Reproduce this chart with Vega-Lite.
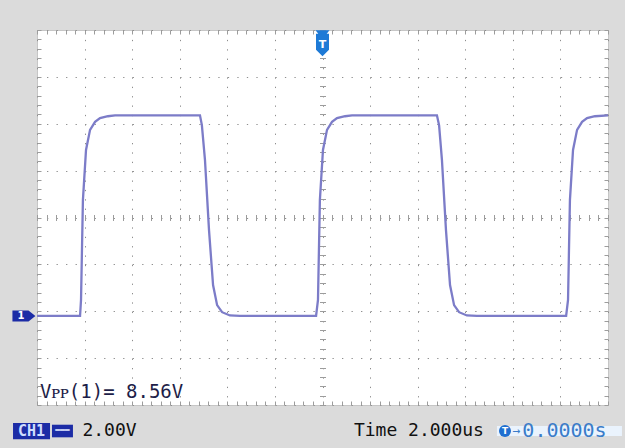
{
  "$schema": "https://vega.github.io/schema/vega-lite/v6.json",
  "width": 571,
  "height": 375,
  "autosize": {"type": "none"},
  "padding": {"left": 37, "top": 30, "right": 17, "bottom": 43},
  "background": "#dbdbdb",
  "config": {
    "view": {"fill": "#ffffff", "stroke": "#c6c6c6", "strokeWidth": 1},
    "axis": {"title": null, "labels": false, "domain": false, "zindex": 0, "tickColor": "#9c9c9c", "tickWidth": 1}
  },
  "resolve": {"axis": {"x": "independent", "y": "independent"}},
  "datasets": {
    "trace": [
      {"t": -12, "v": -4.2}, {"t": -10.19, "v": -4.2}, {"t": -10.15, "v": -3.52}, {"t": -10.07, "v": 0.74},
      {"t": -9.94, "v": 2.88}, {"t": -9.77, "v": 3.74}, {"t": -9.56, "v": 4.08}, {"t": -9.35, "v": 4.24},
      {"t": -9.02, "v": 4.32}, {"t": -8.72, "v": 4.36}, {"t": -5.15, "v": 4.36}, {"t": -5.07, "v": 3.94},
      {"t": -4.94, "v": 2.46}, {"t": -4.77, "v": -0.54}, {"t": -4.6, "v": -2.88}, {"t": -4.43, "v": -3.74},
      {"t": -4.22, "v": -4.04}, {"t": -3.89, "v": -4.18}, {"t": -3.47, "v": -4.2}, {"t": -0.27, "v": -4.2},
      {"t": -0.19, "v": -3.52}, {"t": -0.11, "v": 0.74}, {"t": 0.02, "v": 2.88}, {"t": 0.19, "v": 3.74},
      {"t": 0.4, "v": 4.08}, {"t": 0.61, "v": 4.24}, {"t": 0.95, "v": 4.32}, {"t": 1.24, "v": 4.36},
      {"t": 4.81, "v": 4.36}, {"t": 4.9, "v": 3.94}, {"t": 5.02, "v": 2.46}, {"t": 5.19, "v": -0.54},
      {"t": 5.36, "v": -2.88}, {"t": 5.53, "v": -3.74}, {"t": 5.74, "v": -4.04}, {"t": 6.07, "v": -4.18},
      {"t": 6.49, "v": -4.2}, {"t": 10.24, "v": -4.2}, {"t": 10.32, "v": -3.52}, {"t": 10.4, "v": 0.74},
      {"t": 10.53, "v": 2.88}, {"t": 10.7, "v": 3.74}, {"t": 10.91, "v": 4.08}, {"t": 11.12, "v": 4.24},
      {"t": 11.45, "v": 4.32}, {"t": 12, "v": 4.36}
    ]
  },
  "layer": [
    {
      "data": {"name": "trace"},
      "mark": {"type": "line", "color": "#7c7cc8", "strokeWidth": 2.3, "interpolate": "linear"},
      "encoding": {
        "x": {"field": "t", "type": "quantitative", "scale": {"domain": [-12, 12], "nice": false, "zero": false},
          "axis": {"orient": "bottom", "values": [-12, -10, -8, -6, -4, -2, 0, 2, 4, 6, 8, 10, 12], "grid": true, "ticks": false, "gridColor": "#8e8e8e", "gridDash": [1.3, 8.075], "gridWidth": 1}},
        "y": {"field": "v", "type": "quantitative", "scale": {"domain": [-8, 8], "nice": false, "zero": false},
          "axis": {"orient": "left", "values": [-8, -6, -4, -2, 0, 2, 4, 6, 8], "grid": true, "ticks": false, "gridColor": "#8e8e8e", "gridDash": [1.3, 8.216], "gridWidth": 1}}
      }
    },
    {
      "data": {"values": [{"t": -12.55, "v": -4.2, "label": "1"}]},
      "mark": {"type": "point", "shape": "M-1,-0.48L0.4,-0.48L1,0L0.4,0.48L-1,0.48Z", "size": 529, "filled": true, "color": "#1c2ca6", "opacity": 1},
      "encoding": {
        "x": {"field": "t", "type": "quantitative",
          "axis": {"orient": "bottom", "offset": -190.5, "tickSize": 6, "values": [-12, -11.6, -11.2, -10.8, -10.4, -10, -9.6, -9.2, -8.8, -8.4, -8, -7.6, -7.2, -6.8, -6.4, -6, -5.6, -5.2, -4.8, -4.4, -4, -3.6, -3.2, -2.8, -2.4, -2, -1.6, -1.2, -0.8, -0.4, 0, 0.4, 0.8, 1.2, 1.6, 2, 2.4, 2.8, 3.2, 3.6, 4, 4.4, 4.8, 5.2, 5.6, 6, 6.4, 6.8, 7.2, 7.6, 8, 8.4, 8.8, 9.2, 9.6, 10, 10.4, 10.8, 11.2, 11.6, 12]}},
        "y": {"field": "v", "type": "quantitative",
          "axis": {"orient": "left", "offset": -288.5, "tickSize": 6, "values": [-8, -7.6, -7.2, -6.8, -6.4, -6, -5.6, -5.2, -4.8, -4.4, -4, -3.6, -3.2, -2.8, -2.4, -2, -1.6, -1.2, -0.8, -0.4, 0, 0.4, 0.8, 1.2, 1.6, 2, 2.4, 2.8, 3.2, 3.6, 4, 4.4, 4.8, 5.2, 5.6, 6, 6.4, 6.8, 7.2, 7.6, 8]}}
      }
    },
    {
      "data": {"values": [{"t": -12.67, "v": -4.2, "label": "1"}]},
      "mark": {"type": "text", "color": "#ffffff", "font": "DejaVu Sans", "fontWeight": "bold", "fontSize": 10, "align": "center", "baseline": "middle"},
      "encoding": {
        "x": {"field": "t", "type": "quantitative", "axis": null},
        "y": {"field": "v", "type": "quantitative", "axis": null},
        "text": {"field": "label"}
      }
    },
    {
      "data": {"values": [{"t": 0, "v": 7.44}]},
      "mark": {"type": "point", "shape": "M-0.54,-1L0.54,-1L0.32,-0.72L0.5,-0.72L0.5,0.5L0,1L-0.5,0.5L-0.5,-0.72L-0.32,-0.72Z", "size": 676, "filled": true, "color": "#1e7ad6", "opacity": 1},
      "encoding": {
        "x": {"field": "t", "type": "quantitative",
          "axis": {"orient": "top", "offset": -4, "tickSize": 4, "values": [-12, -11.6, -11.2, -10.8, -10.4, -10, -9.6, -9.2, -8.8, -8.4, -8, -7.6, -7.2, -6.8, -6.4, -6, -5.6, -5.2, -4.8, -4.4, -4, -3.6, -3.2, -2.8, -2.4, -2, -1.6, -1.2, -0.8, -0.4, 0, 0.4, 0.8, 1.2, 1.6, 2, 2.4, 2.8, 3.2, 3.6, 4, 4.4, 4.8, 5.2, 5.6, 6, 6.4, 6.8, 7.2, 7.6, 8, 8.4, 8.8, 9.2, 9.6, 10, 10.4, 10.8, 11.2, 11.6, 12]}},
        "y": {"field": "v", "type": "quantitative",
          "axis": {"orient": "left", "offset": -4, "tickSize": 4, "values": [-8, -7.6, -7.2, -6.8, -6.4, -6, -5.6, -5.2, -4.8, -4.4, -4, -3.6, -3.2, -2.8, -2.4, -2, -1.6, -1.2, -0.8, -0.4, 0, 0.4, 0.8, 1.2, 1.6, 2, 2.4, 2.8, 3.2, 3.6, 4, 4.4, 4.8, 5.2, 5.6, 6, 6.4, 6.8, 7.2, 7.6, 8]}}
      }
    },
    {
      "data": {"values": [{"t": 0, "v": 7.36, "label": "T"}]},
      "mark": {"type": "text", "color": "#ffffff", "font": "DejaVu Sans", "fontWeight": "bold", "fontSize": 11, "align": "center", "baseline": "middle"},
      "encoding": {
        "x": {"field": "t", "type": "quantitative", "axis": null},
        "y": {"field": "v", "type": "quantitative", "axis": null},
        "text": {"field": "label"}
      }
    },
    {
      "data": {"values": [{"t": -11.87, "v": -7.45, "label": "Vᴘᴘ(1)= 8.56V"}]},
      "mark": {"type": "text", "color": "#1e1e48", "font": "DejaVu Sans Mono", "fontSize": 19, "align": "left", "baseline": "middle"},
      "encoding": {
        "x": {"field": "t", "type": "quantitative",
          "axis": {"orient": "bottom", "offset": -4, "tickSize": 4, "values": [-12, -11.6, -11.2, -10.8, -10.4, -10, -9.6, -9.2, -8.8, -8.4, -8, -7.6, -7.2, -6.8, -6.4, -6, -5.6, -5.2, -4.8, -4.4, -4, -3.6, -3.2, -2.8, -2.4, -2, -1.6, -1.2, -0.8, -0.4, 0, 0.4, 0.8, 1.2, 1.6, 2, 2.4, 2.8, 3.2, 3.6, 4, 4.4, 4.8, 5.2, 5.6, 6, 6.4, 6.8, 7.2, 7.6, 8, 8.4, 8.8, 9.2, 9.6, 10, 10.4, 10.8, 11.2, 11.6, 12]}},
        "y": {"field": "v", "type": "quantitative",
          "axis": {"orient": "right", "offset": -4, "tickSize": 4, "values": [-8, -7.6, -7.2, -6.8, -6.4, -6, -5.6, -5.2, -4.8, -4.4, -4, -3.6, -3.2, -2.8, -2.4, -2, -1.6, -1.2, -0.8, -0.4, 0, 0.4, 0.8, 1.2, 1.6, 2, 2.4, 2.8, 3.2, 3.6, 4, 4.4, 4.8, 5.2, 5.6, 6, 6.4, 6.8, 7.2, 7.6, 8]}},
        "text": {"field": "label"}
      }
    },
    {
      "data": {"values": [{"t": -12.23, "v": -9.11}]},
      "mark": {"type": "point", "shape": "M-1,-0.44L1,-0.44L1,0.44L-1,0.44Z", "size": 1369, "filled": true, "color": "#1c2ca6", "opacity": 1},
      "encoding": {
        "x": {"field": "t", "type": "quantitative", "axis": null},
        "y": {"field": "v", "type": "quantitative", "axis": null}
      }
    },
    {
      "data": {"values": [{"t": -10.93, "v": -9.11}]},
      "mark": {"type": "point", "shape": "M-1,-0.6L1,-0.6L1,0.6L-1,0.6Z", "size": 441, "filled": true, "color": "#1c2ca6", "opacity": 1},
      "encoding": {
        "x": {"field": "t", "type": "quantitative", "axis": null},
        "y": {"field": "v", "type": "quantitative", "axis": null}
      }
    },
    {
      "data": {"values": [{"t": -12.23, "v": -9.11, "label": "CH1"}]},
      "mark": {"type": "text", "color": "#cfdcff", "font": "DejaVu Sans Mono", "fontWeight": "bold", "fontSize": 15, "align": "center", "baseline": "middle"},
      "encoding": {
        "x": {"field": "t", "type": "quantitative", "axis": null},
        "y": {"field": "v", "type": "quantitative", "axis": null},
        "text": {"field": "label"}
      }
    },
    {
      "data": {"values": [{"t": -10.93, "v": -9.11, "label": "═══"}]},
      "mark": {"type": "text", "color": "#dfe6ff", "font": "DejaVu Sans Mono", "fontSize": 8, "align": "center", "baseline": "middle"},
      "encoding": {
        "x": {"field": "t", "type": "quantitative", "axis": null},
        "y": {"field": "v", "type": "quantitative", "axis": null},
        "text": {"field": "label"}
      }
    },
    {
      "data": {"values": [{"t": -10.09, "v": -9.11, "label": "2.00V"}, {"t": 1.32, "v": -9.11, "label": "Time 2.000us"}]},
      "mark": {"type": "text", "color": "#111111", "font": "DejaVu Sans Mono", "fontSize": 18, "align": "left", "baseline": "middle"},
      "encoding": {
        "x": {"field": "t", "type": "quantitative", "axis": null},
        "y": {"field": "v", "type": "quantitative", "axis": null},
        "text": {"field": "label"}
      }
    },
    {
      "data": {"values": [{"t": 9.96, "v": -9.11}]},
      "mark": {"type": "point", "shape": "M-1,-0.08L1,-0.08L1,0.08L-1,0.08Z", "size": 15625, "filled": true, "color": "#eaf3fd", "opacity": 1},
      "encoding": {
        "x": {"field": "t", "type": "quantitative", "axis": null},
        "y": {"field": "v", "type": "quantitative", "axis": null}
      }
    },
    {
      "data": {"values": [{"t": 7.67, "v": -9.11}]},
      "mark": {"type": "point", "shape": "circle", "size": 144, "filled": true, "color": "#1f6fd0", "opacity": 1},
      "encoding": {
        "x": {"field": "t", "type": "quantitative", "axis": null},
        "y": {"field": "v", "type": "quantitative", "axis": null}
      }
    },
    {
      "data": {"values": [{"t": 7.67, "v": -9.11, "label": "T"}]},
      "mark": {"type": "text", "color": "#ffffff", "font": "DejaVu Sans", "fontWeight": "bold", "fontSize": 9, "align": "center", "baseline": "middle"},
      "encoding": {
        "x": {"field": "t", "type": "quantitative", "axis": null},
        "y": {"field": "v", "type": "quantitative", "axis": null},
        "text": {"field": "label"}
      }
    },
    {
      "data": {"values": [{"t": 8.0, "v": -9.11, "label": "→"}]},
      "mark": {"type": "text", "color": "#3a7cc9", "font": "DejaVu Sans Mono", "fontSize": 13, "align": "left", "baseline": "middle"},
      "encoding": {
        "x": {"field": "t", "type": "quantitative", "axis": null},
        "y": {"field": "v", "type": "quantitative", "axis": null},
        "text": {"field": "label"}
      }
    },
    {
      "data": {"values": [{"t": 8.4, "v": -9.11, "label": "0.0000s"}]},
      "mark": {"type": "text", "color": "#3a7cc9", "font": "DejaVu Sans Mono", "fontSize": 20, "align": "left", "baseline": "middle"},
      "encoding": {
        "x": {"field": "t", "type": "quantitative", "axis": null},
        "y": {"field": "v", "type": "quantitative", "axis": null},
        "text": {"field": "label"}
      }
    }
  ]
}
